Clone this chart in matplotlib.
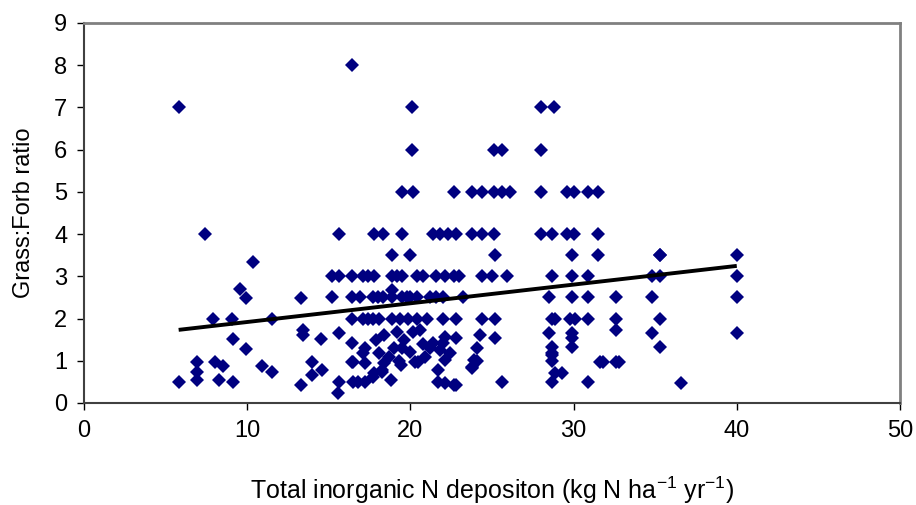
import matplotlib.pyplot as plt

plt.rcParams['font.family'] = ['Liberation Sans', 'DejaVu Sans']
plt.rcParams['mathtext.default'] = 'regular'

# N deposition (kg N/ha/yr) and grass:forb ratio
dep = [5.8, 5.8, 7.4, 6.9, 6.9, 6.9, 7.9, 8.0, 8.5, 8.3,
       9.05, 9.1, 9.1, 9.55, 9.9, 9.9, 10.35, 10.9, 11.5, 11.5,
       13.3, 13.4, 13.4, 13.3, 14.0, 14.6, 14.0, 14.5,
       15.6, 15.2, 15.6, 16.4, 15.2, 16.4, 16.4, 15.6, 16.4, 16.4, 15.6, 15.55, 16.5, 16.4,
       # y = 4 row
       17.8, 18.3, 19.5, 21.4, 21.8, 22.3, 22.8, 23.8, 24.4, 25.1, 28.0, 28.7, 29.6, 30.0, 31.5,
       # y = 3.5 row
       18.9, 20.0, 25.2, 29.9, 31.5, 35.3, 40.0,
       # y = 5 row
       19.5, 20.15, 22.7, 23.8, 24.4, 25.1, 25.6, 26.1, 28.0, 29.6, 30.0, 30.9, 31.5,
       # y = 6, 7
       20.1, 25.1, 25.6, 28.0, 20.1, 28.0, 28.8,
       # y = 3 row
       17.1, 17.4, 17.8, 18.9, 19.2, 19.5, 20.4, 20.8, 21.6, 22.1, 22.7, 23.0, 24.4, 25.0,
       25.9, 28.7, 29.9, 30.9, 34.8, 35.3, 40.0,
       # y = 2.5 row
       16.9, 17.7, 18.0, 18.3, 18.9, 19.5, 19.8, 20.0, 20.4, 21.2, 21.6, 22.0, 23.2,
       28.5, 29.9, 30.9, 32.6, 34.8, 40.0, 18.9,
       # y = 2 row
       17.1, 17.4, 17.7, 18.1, 18.9, 19.35, 19.85, 20.4, 21.0, 22.0, 22.8, 24.4, 25.2,
       28.7, 28.85, 29.8, 30.1, 30.9, 32.6, 35.3,
       # 1 - 1.8 band
       17.2, 17.9, 18.4, 19.2, 19.5, 20.15, 20.6, 21.4, 21.8, 22.1, 22.0, 22.8, 24.25, 25.2,
       24.1, 23.9, 23.8, 22.1, 22.4, 28.5, 28.65, 28.65, 28.7, 28.65, 28.85, 28.65, 29.3,
       29.9, 29.9, 29.9, 30.9, 31.6, 31.8, 32.6, 32.6, 32.8, 34.8, 35.3, 35.3, 36.6, 40.0,
       # dense lower band
       16.5, 17.1, 17.2, 18.1, 18.4, 18.25, 17.7, 20.3, 20.45, 21.7, 22.1, 16.8, 17.2,
       17.8, 18.25, 18.7, 20.8, 22.7, 22.8, 21.7, 23.8, 24.1, 25.6, 19.0, 19.6, 20.0,
       19.4, 20.9, 21.2, 18.8, 19.3]

ratio = [7.0, 0.5, 4.0, 0.97, 0.74, 0.54, 2.0, 0.97, 0.88, 0.54,
         2.0, 1.52, 0.5, 2.7, 2.49, 1.28, 3.34, 0.88, 0.74, 2.0,
         2.49, 1.73, 1.6, 0.43, 0.97, 0.78, 0.66, 1.52,
         4.0, 3.0, 3.0, 3.0, 2.5, 2.5, 2.0, 1.65, 1.42, 0.97, 0.5, 0.24, 0.5, 8.0,
         4.0, 4.0, 4.0, 4.0, 4.0, 4.0, 4.0, 4.0, 4.0, 4.0, 4.0, 4.0, 4.0, 4.0, 4.0,
         3.5, 3.5, 3.5, 3.5, 3.5, 3.5, 3.5,
         5.0, 5.0, 5.0, 5.0, 5.0, 5.0, 5.0, 5.0, 5.0, 5.0, 5.0, 5.0, 5.0,
         6.0, 6.0, 6.0, 6.0, 7.0, 7.0, 7.0,
         3.0, 3.0, 3.0, 3.0, 3.0, 3.0, 3.0, 3.0, 3.0, 3.0, 3.0, 3.0, 3.0, 3.0,
         3.0, 3.0, 3.0, 3.0, 3.0, 3.0, 3.0,
         2.5, 2.5, 2.5, 2.5, 2.5, 2.5, 2.5, 2.5, 2.5, 2.5, 2.5, 2.5, 2.5,
         2.5, 2.5, 2.5, 2.5, 2.5, 2.5, 2.68,
         2.0, 2.0, 2.0, 2.0, 2.0, 2.0, 2.0, 2.0, 2.0, 2.0, 2.0, 2.0, 2.0,
         2.0, 2.0, 2.0, 2.0, 2.0, 2.0, 2.0,
         1.3, 1.5, 1.6, 1.68, 1.3, 1.68, 1.73, 1.42, 1.26, 1.56, 1.42, 1.54, 1.61, 1.54,
         1.3, 1.02, 0.85, 1.02, 1.18, 1.66, 1.33, 1.14, 1.0, 0.5, 0.72, 1.18, 0.71,
         1.66, 1.54, 1.33, 0.5, 0.97, 0.97, 0.97, 1.73, 0.97, 1.66, 1.33, 3.5, 0.48, 1.65,
         0.97, 1.18, 0.95, 1.18, 0.95, 0.74, 0.62, 0.97, 0.97, 0.78, 0.47, 0.5, 0.5,
         0.71, 0.78, 1.1, 1.4, 0.43, 0.43, 0.5, 0.83, 1.0, 0.5, 1.3, 1.5, 1.2,
         0.9, 1.1, 1.3, 0.55, 1.0]

# linear trendline
trend_slope = 0.0443
trend_intercept = 1.475

fig = plt.figure(figsize=(9.16, 5.05), dpi=100)
ax = fig.add_axes([0.0917, 0.202, 0.8908, 0.7525])

ax.plot(dep, ratio, linestyle='none', marker='D', markersize=7,
        color='#000080', markeredgewidth=0)

x0 = min(dep)
x1 = max(dep)
ax.plot([x0, x1], [trend_intercept + trend_slope * x0, trend_intercept + trend_slope * x1],
        color='black', linewidth=2.8, solid_capstyle='butt')

ax.set_xlim(0, 50)
ax.set_ylim(0, 9)
ax.set_xticks(range(0, 51, 10))
ax.set_yticks(range(0, 10))
ax.tick_params(direction='out', length=5, width=1, labelsize=17, pad=7)

ax.spines['top'].set_color('#808080')
ax.spines['right'].set_color('#808080')
ax.spines['top'].set_linewidth(2)
ax.spines['right'].set_linewidth(2)
ax.spines['left'].set_color('#404040')
ax.spines['bottom'].set_color('#404040')
ax.spines['left'].set_linewidth(1.5)
ax.spines['bottom'].set_linewidth(1.5)

ax.set_xlabel('Total inorganic N depositon (kg N ha$^{-1}$ yr$^{-1}$)', fontsize=18, labelpad=24)
ax.set_ylabel('Grass:Forb ratio', fontsize=17, labelpad=14)

fig.savefig('out.png', dpi=100)
